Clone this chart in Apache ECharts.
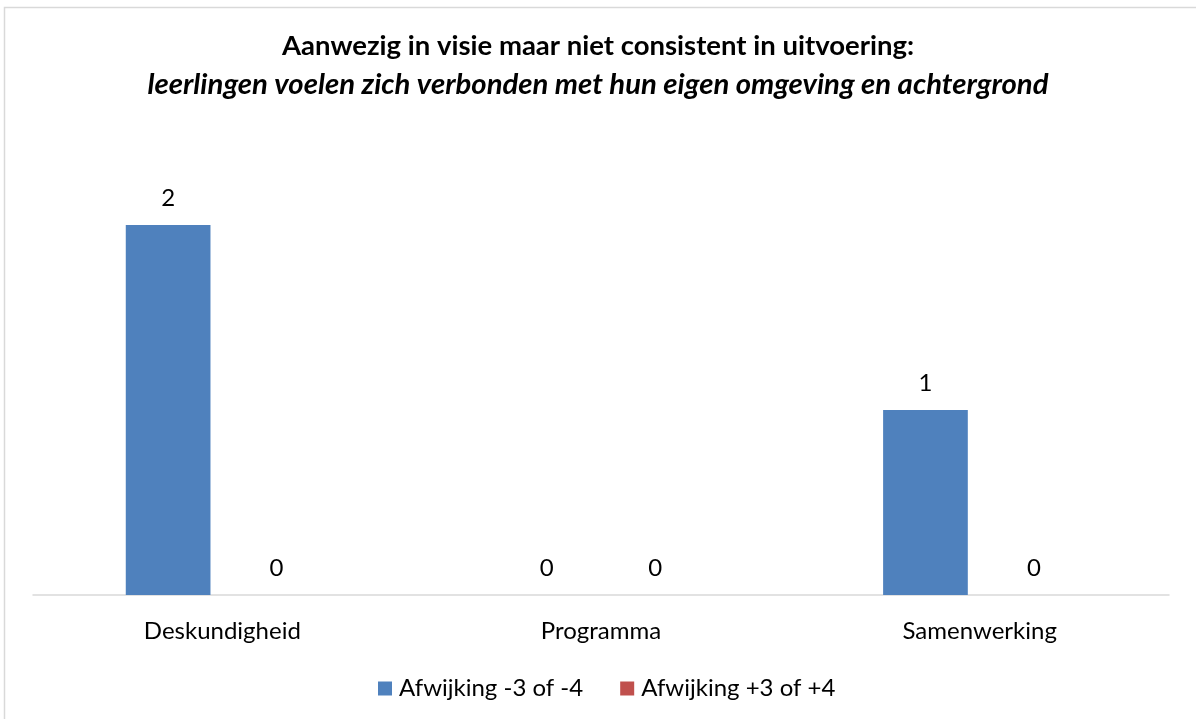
<!DOCTYPE html>
<html>
<head>
<meta charset="utf-8">
<script src="https://cdn.jsdelivr.net/npm/echarts@6/dist/echarts.min.js"></script>
<style>
  html, body { margin: 0; padding: 0; background: #fff; }
  #chart { width: 1196px; height: 719px; }
</style>
</head>
<body>
<div id="chart"></div>
<script>
const titleMain = 'Aanwezig in visie maar niet consistent in uitvoering:';
const titleSub = 'leerlingen voelen zich verbonden met hun eigen omgeving en achtergrond';
const categories = ['Deskundigheid', 'Programma', 'Samenwerking'];
const seriesNames = ['Afwijking -3 of -4', 'Afwijking +3 of +4'];
const valuesLow = [2, 0, 1];
const valuesHigh = [0, 0, 0];
const colors = ['#4F81BD', '#C0504D'];

const FONT = 'Lato, "Open Sans", sans-serif';

const chart = echarts.init(document.getElementById('chart'), null, { renderer: 'canvas' });

const labelStyle = {
  show: true,
  position: 'top',
  distance: 12,
  color: '#000',
  fontFamily: FONT,
  fontSize: 24,
  lineHeight: 29
};

chart.setOption({
  backgroundColor: '#fff',
  animation: false,
  title: [
    {
      text: titleMain,
      left: 'center',
      top: 30,
      padding: 0,
      textStyle: { fontFamily: FONT, fontSize: 27.5, lineHeight: 33, fontWeight: 'bold', color: '#000' }
    },
    {
      text: titleSub,
      left: 'center',
      top: 67,
      padding: 0,
      textStyle: { fontFamily: FONT, fontSize: 29.3, lineHeight: 35, fontStyle: 'italic', fontWeight: 'bold', color: '#000' }
    }
  ],
  graphic: [{
    type: 'rect',
    shape: { x: 4.5, y: 7.5, width: 1200, height: 720 },
    style: { fill: 'none', stroke: '#d9d9d9', lineWidth: 1.5 },
    silent: true
  }],
  legend: {
    bottom: 16,
    left: 378,
    padding: 0,
    itemWidth: 14,
    itemHeight: 14,
    itemGap: 37,
    icon: 'rect',
    textStyle: { fontFamily: FONT, fontSize: 24, lineHeight: 29, color: '#000', padding: [0, 0, 0, 2] },
    data: seriesNames
  },
  grid: { left: 33, right: 27, top: 225, bottom: 124, containLabel: false },
  xAxis: {
    type: 'category',
    data: categories,
    axisLine: { lineStyle: { color: '#d9d9d9', width: 1.5 } },
    axisTick: { show: false },
    axisLabel: { color: '#000', fontFamily: FONT, fontSize: 24, lineHeight: 29, margin: 22 }
  },
  yAxis: {
    type: 'value',
    min: 0,
    max: 2,
    show: false,
    splitLine: { show: false }
  },
  series: [
    {
      name: seriesNames[0],
      type: 'bar',
      data: valuesLow,
      itemStyle: { color: colors[0] },
      barGap: '28%',
      barCategoryGap: '49%',
      label: labelStyle
    },
    {
      name: seriesNames[1],
      type: 'bar',
      data: valuesHigh,
      itemStyle: { color: colors[1] },
      label: labelStyle
    }
  ]
});
</script>
</body>
</html>
